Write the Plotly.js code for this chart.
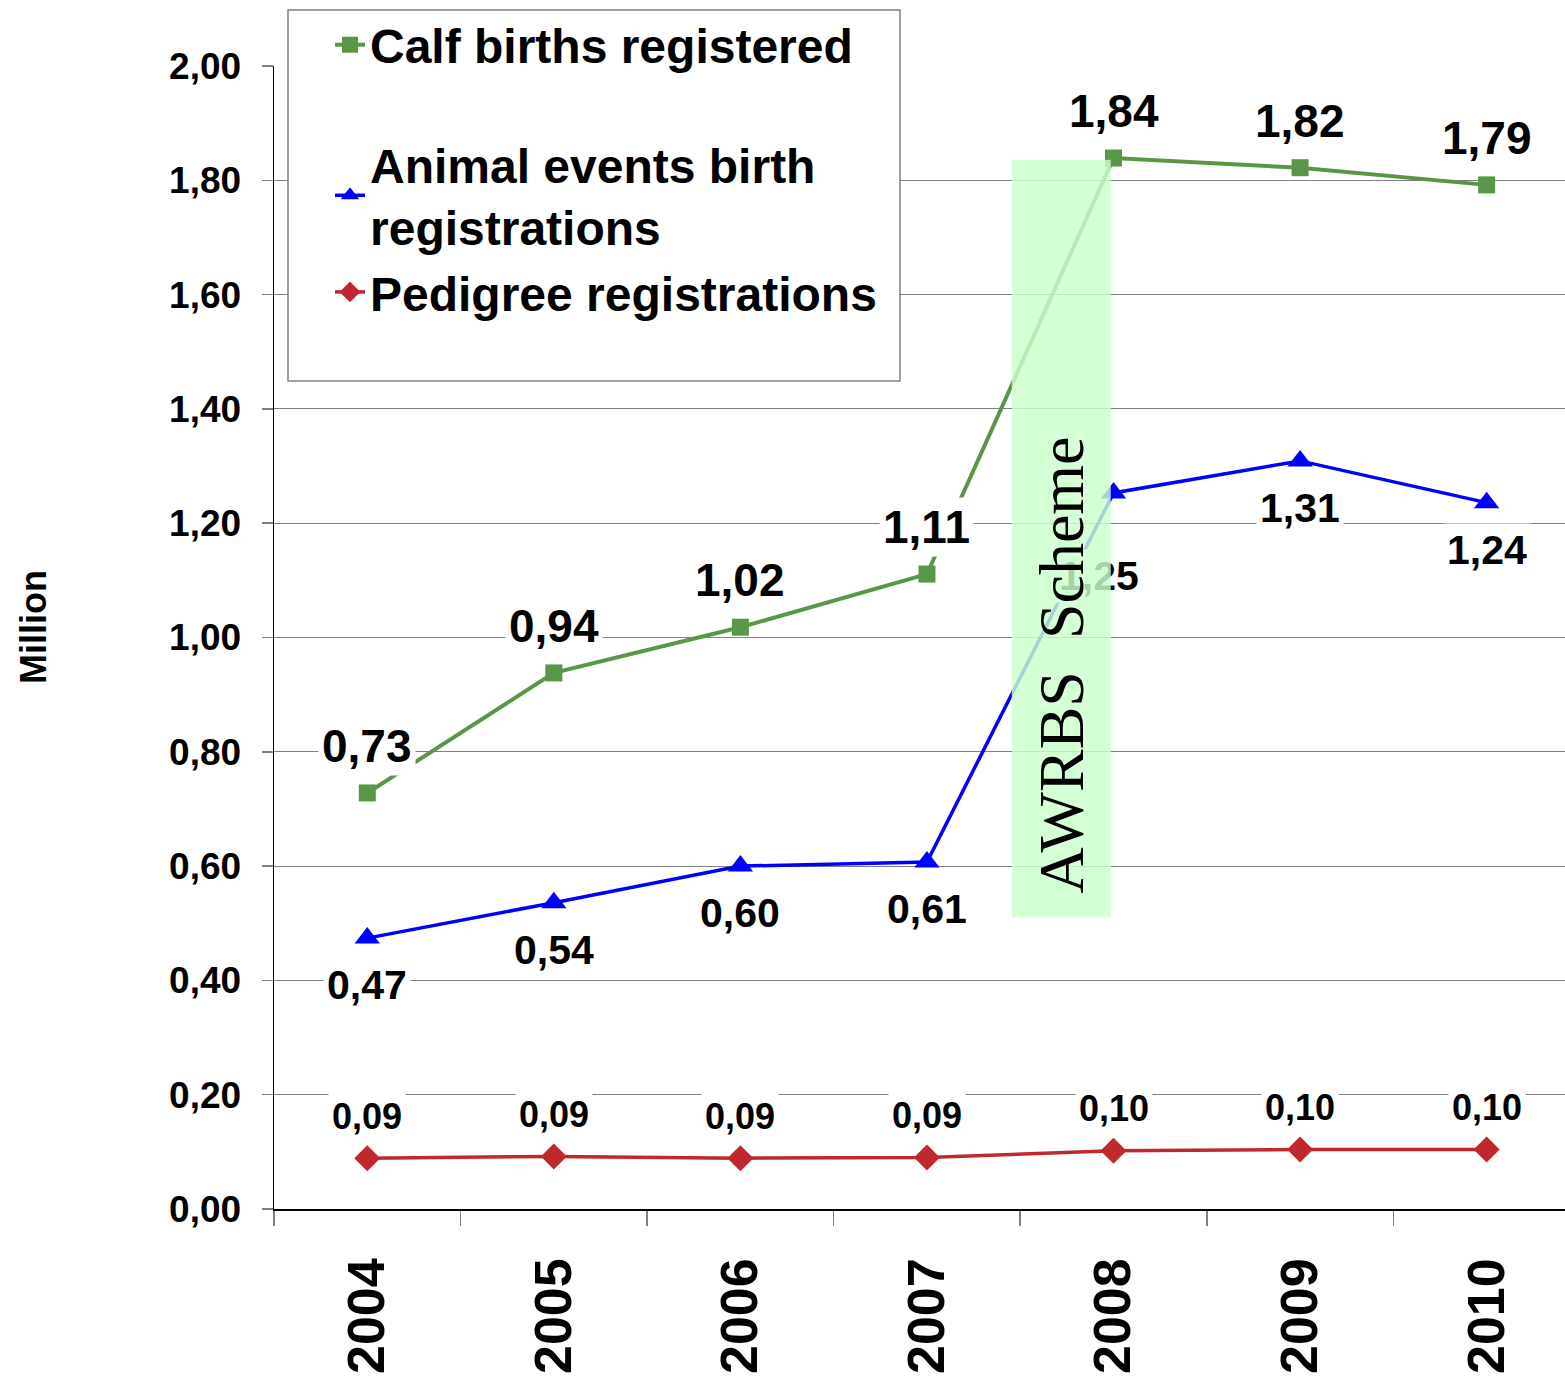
<!DOCTYPE html>
<html>
<head>
<meta charset="utf-8">
<script src="https://cdn.plot.ly/plotly-3.0.1.min.js"></script>
<style>html,body{margin:0;padding:0;background:#fff;overflow:hidden}</style>
</head>
<body>
<div id="chart" style="width:1565px;height:1376px"></div>
<script>
// ---- data ----
const years = ['2004', '2005', '2006', '2007', '2008', '2009', '2010'];
const calfBirths = [0.728, 0.938, 1.018, 1.111, 1.839, 1.822, 1.792];
const animalEvents = [0.474, 0.536, 0.600, 0.607, 1.253, 1.309, 1.236];
const pedigree = [0.089, 0.092, 0.089, 0.090, 0.102, 0.104, 0.104];
const seriesNames = ['Calf births registered', 'Animal events birth<br>registrations', 'Pedigree registrations'];
const yAxisTitle = 'Million';
const schemeLabel = '\u2009AWRBS\u00a0\u00a0Scheme';

// ---- styling ----
const FONT = 'Liberation Sans, Arial, Helvetica, sans-serif';
const W = 1565, H = 1376;
const L = 274, T = 66, B = 167;
const plotW = W - L, plotH = H - T - B;
const px2paperX = p => (p - L) / plotW;
const px2paperY = p => (H - B - p) / plotH;

const colors = ['#5A9647', '#0000FF', '#C0282D'];

const traces = [
  {x: years, y: calfBirths, name: seriesNames[0], type: 'scatter', mode: 'lines+markers',
   legendgroup: 'a',
   line: {color: colors[0], width: 4}, marker: {symbol: 'square', size: 17, color: colors[0]}},
  {x: years, y: animalEvents, name: seriesNames[1], type: 'scatter', mode: 'lines+markers',
   legendgroup: 'b',
   line: {color: colors[1], width: 3.5}, marker: {symbol: 'triangle-up', size: 22, color: colors[1]}},
  {x: years, y: pedigree, name: seriesNames[2], type: 'scatter', mode: 'lines+markers',
   legendgroup: 'b',
   line: {color: colors[2], width: 3.5}, marker: {symbol: 'diamond', size: 20, color: colors[2]}}
];

const fmt = v => v.toFixed(2).replace('.', ',');
const annotations = [];
function addLabels(vals, size, yshift, special) {
  vals.forEach((v, i) => {
    const sp = special && special[i] ? special[i] : {};
    annotations.push({
      x: i, y: v, xref: 'x', yref: 'y', text: fmt(v), showarrow: false,
      xanchor: 'center', yanchor: 'middle',
      yshift: sp.yshift !== undefined ? sp.yshift : yshift,
      xshift: sp.xshift || 0,
      bgcolor: '#ffffff', borderpad: 3,
      font: {family: FONT, size: size, color: '#000', weight: 700}
    });
  });
}
addLabels(calfBirths, 46, 47);
addLabels(animalEvents, 41, -47, {4: {yshift: -83, xshift: -15}});
addLabels(pedigree, 36, 42);

// y-axis title
annotations.push({
  xref: 'paper', yref: 'paper', x: px2paperX(33), y: px2paperY(627),
  text: yAxisTitle, textangle: -90, showarrow: false, xanchor: 'center', yanchor: 'middle',
  font: {family: FONT, size: 36, color: '#000', weight: 700}
});

// scheme highlight box with rotated text
annotations.push({
  xref: 'x', yref: 'y', x: 3.72, y: 1.174,
  text: schemeLabel, textangle: -90, showarrow: false,
  width: 736, height: 78, borderpad: 10, align: 'left',
  bgcolor: 'rgba(204,255,204,0.82)',
  font: {family: 'Liberation Serif, Times New Roman, serif', size: 64, color: '#000'}
});

const shapes = [
  {type: 'rect', xref: 'paper', yref: 'paper',
   x0: px2paperX(288), x1: px2paperX(900), y0: px2paperY(381), y1: px2paperY(10),
   fillcolor: '#ffffff', line: {color: '#808080', width: 1.5}, layer: 'above'}
];

const layout = {
  width: W, height: H,
  margin: {l: L, r: 0, t: T, b: B, autoexpand: false},
  paper_bgcolor: '#fff', plot_bgcolor: '#fff',
  separators: ',.',
  font: {family: FONT, color: '#000'},
  showlegend: true,
  legend: {
    x: px2paperX(330), y: px2paperY(7), xanchor: 'left', yanchor: 'top',
    bgcolor: 'rgba(0,0,0,0)', borderwidth: 0,
    traceorder: 'grouped', tracegroupgap: 54,
    font: {family: FONT, size: 48, color: '#000', weight: 700}
  },
  xaxis: {
    type: 'category', range: [-0.5, 6.42],
    showline: true, linecolor: '#000', linewidth: 1.5,
    ticks: 'outside', tickson: 'boundaries', ticklen: 15, tickcolor: '#808080', tickwidth: 1.5,
    showgrid: false, zeroline: false,
    tickangle: -90, ticklabelstandoff: 27,
    tickfont: {family: FONT, size: 52, color: '#000', weight: 700},
    fixedrange: true
  },
  yaxis: {
    range: [0, 2], tick0: 0, dtick: 0.2, tickformat: '.2f',
    showline: true, linecolor: '#000', linewidth: 1.5,
    ticks: 'outside', ticklen: 11, tickcolor: '#808080', tickwidth: 1.5,
    showgrid: true, gridcolor: '#808080', gridwidth: 1,
    zeroline: false, ticklabelstandoff: 13,
    tickfont: {family: FONT, size: 37, color: '#000', weight: 700},
    fixedrange: true
  },
  annotations: annotations,
  shapes: shapes
};

Plotly.newPlot('chart', traces, layout, {displayModeBar: false, staticPlot: true});
</script>
</body>
</html>
